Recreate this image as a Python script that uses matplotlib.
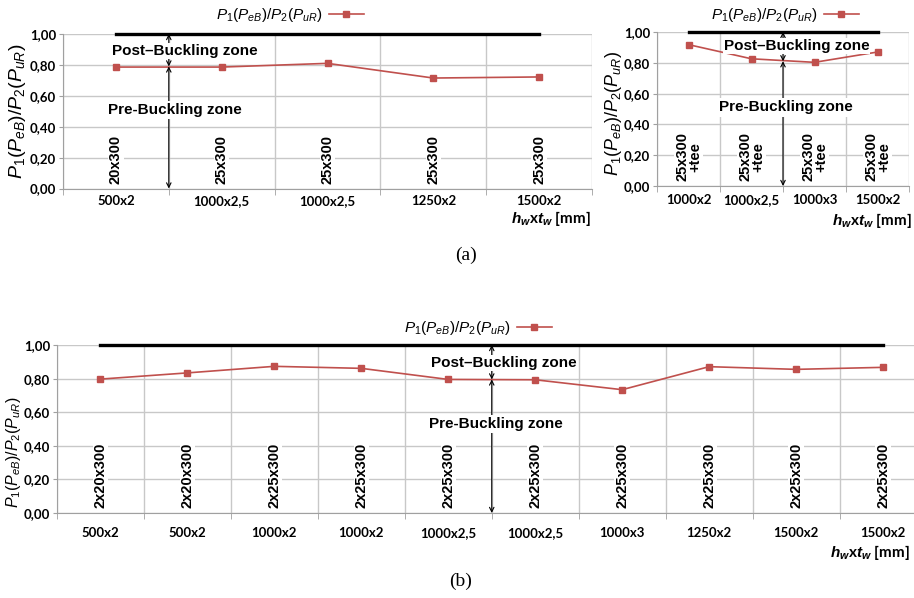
import numpy as np
import matplotlib
matplotlib.use("Agg")
import matplotlib.pyplot as plt
from matplotlib.lines import Line2D

plt.rcParams['mathtext.fontset'] = 'custom'
plt.rcParams['mathtext.rm'] = 'Liberation Sans'
plt.rcParams['mathtext.it'] = 'Liberation Sans:italic'
plt.rcParams['mathtext.bf'] = 'Lato:bold'
plt.rcParams['mathtext.bfit'] = 'Liberation Sans:bold:italic'

# ---- data ----
a1_cats = ['500x2', '1000x2,5', '1000x2,5', '1250x2', '1500x2']
a1_flange = ['20x300', '25x300', '25x300', '25x300', '25x300']
a1_ratio = [0.786, 0.786, 0.81, 0.715, 0.722]
a1_limit = 0.79

a2_cats = ['1000x2', '1000x2,5', '1000x3', '1500x2']
a2_flange = ['25x300\n+tee', '25x300\n+tee', '25x300\n+tee', '25x300\n+tee']
a2_ratio = [0.918, 0.826, 0.803, 0.870]
a2_limit = 0.81

b_cats = ['500x2', '500x2', '1000x2', '1000x2', '1000x2,5', '1000x2,5',
          '1000x3', '1250x2', '1500x2', '1500x2']
b_flange = ['2x20x300', '2x20x300', '2x25x300', '2x25x300', '2x25x300',
            '2x25x300', '2x25x300', '2x25x300', '2x25x300', '2x25x300']
b_ratio = [0.797, 0.834, 0.873, 0.861, 0.795, 0.793, 0.734, 0.871, 0.855, 0.867]
b_limit = 0.795

yticks = [0.0, 0.2, 0.4, 0.6, 0.8, 1.0]
ylab = r'$P_1(P_{eB})/P_2(P_{uR})$'
xlab = r'$\mathbfit{h}_\mathbfit{w}\mathbf{x}\mathbfit{t}_\mathbfit{w}$ [mm]'

RED = '#c0504d'
GRID = '#c8c8c8'
W, H = 914, 598

fig = plt.figure(figsize=(W / 100, H / 100), dpi=100)


def px_axes(left, right, top, bottom):
    return fig.add_axes([left / W, 1 - bottom / H, (right - left) / W, (bottom - top) / H])


def panel(ax, cats, flange, ratio, limit, arrow_x, post_xy, pre_xy, tick_pad):
    n = len(cats)
    x = np.arange(n)
    ax.set_xlim(-0.5, n - 0.5)
    ax.set_ylim(0, 1)
    ax.set_xticks(x)
    ax.set_xticklabels(cats, fontfamily='Lato', fontweight='bold', fontsize=9.5)
    ax.set_xticks(np.arange(-0.5, n, 1), minor=True)
    ax.set_yticks(yticks)
    ax.set_yticklabels([('%.2f' % v).replace('.', ',') for v in yticks],
                       fontfamily='Lato', fontweight='bold', fontsize=9.5)
    ax.tick_params(axis='x', which='major', length=0, pad=tick_pad)
    ax.tick_params(axis='x', which='minor', length=4, color='#a0a0a0')
    ax.tick_params(axis='y', length=3, color='#a0a0a0', pad=2)
    ax.grid(axis='y', which='major', color=GRID, lw=1)
    ax.grid(axis='x', which='minor', color=GRID, lw=1)
    ax.set_axisbelow(True)
    for s in ['top', 'right']:
        ax.spines[s].set_visible(False)
    for s in ['left', 'bottom']:
        ax.spines[s].set_color('#a0a0a0')

    ax.plot([x[0], x[-1]], [1, 1], color='black', lw=2.4, zorder=3, clip_on=False)
    ax.plot(x, ratio, color=RED, lw=1.2, marker='s', ms=5, zorder=4)

    for xi, t in zip(x, flange):
        ax.text(xi, 0.03, t, rotation=90, ha='center', va='bottom',
                fontfamily='Liberation Sans', fontweight='bold', fontsize=10.5,
                linespacing=0.9, zorder=5,
                bbox=dict(facecolor='white', edgecolor='none', pad=0.5))

    ap = dict(arrowstyle='<->', color='black', lw=0.8, shrinkA=0, shrinkB=0,
              mutation_scale=8)
    ax.annotate('', xy=(arrow_x, 1.0), xytext=(arrow_x, limit), arrowprops=ap, zorder=5)
    ax.annotate('', xy=(arrow_x, limit), xytext=(arrow_x, 0.0), arrowprops=ap, zorder=5)
    ax.text(post_xy[0], post_xy[1], 'Post\u2013Buckling zone', ha='center', va='center',
            fontfamily='Liberation Sans', fontweight='bold', fontsize=11, zorder=6,
            bbox=dict(facecolor='white', edgecolor='none', pad=0.5))
    ax.text(pre_xy[0], pre_xy[1], 'Pre-Buckling zone', ha='center', va='center',
            fontfamily='Liberation Sans', fontweight='bold', fontsize=11, zorder=6,
            bbox=dict(facecolor='white', edgecolor='none', pad=1.5))


def legend(cx, cy):
    h = Line2D([], [], color=RED, lw=1.2, marker='s', ms=5)
    fig.legend([h], [ylab], loc='center', bbox_to_anchor=(cx / W, 1 - cy / H),
               frameon=False, markerfirst=False, fontsize=11, handlelength=2.3,
               handletextpad=0.4, borderpad=0)


# panel (a) left
ax1 = px_axes(63, 592, 34, 188.5)
panel(ax1, a1_cats, a1_flange, a1_ratio, a1_limit, 0.5, (0.65, 0.89), (0.557, 0.51), 5)
legend(290, 15)
fig.text(18 / W, 1 - 111 / H, ylab, rotation=90, ha='center', va='center', fontsize=14)
fig.text(591 / W, 1 - 219 / H, xlab, ha='right', va='center', fontfamily='Lato',
         fontweight='bold', fontsize=11)

# panel (a) right
ax2 = px_axes(657, 909, 32, 186)
panel(ax2, a2_cats, a2_flange, a2_ratio, a2_limit, 1.5, (1.72, 0.91), (1.55, 0.51), 6)
legend(785, 15)
fig.text(613 / W, 1 - 113 / H, ylab, rotation=90, ha='center', va='center', fontsize=13)
fig.text(912 / W, 1 - 220 / H, xlab, ha='right', va='center', fontfamily='Lato',
         fontweight='bold', fontsize=11)

fig.text(466 / W, 1 - 255 / H, '(a)', ha='center', va='center',
         fontfamily='Liberation Serif', fontsize=14)

# panel (b)
ax3 = px_axes(57, 926.5, 345, 513)
panel(ax3, b_cats, b_flange, b_ratio, b_limit, 4.5, (4.64, 0.893), (4.55, 0.53), 10)
legend(478, 328)
fig.text(14 / W, 1 - 452 / H, ylab, rotation=90, ha='center', va='center', fontsize=11.5)
fig.text(910 / W, 1 - 553 / H, xlab, ha='right', va='center', fontfamily='Lato',
         fontweight='bold', fontsize=11)

fig.text(461 / W, 1 - 581 / H, '(b)', ha='center', va='center',
         fontfamily='Liberation Serif', fontsize=14)

fig.savefig('out.png', dpi=100)
